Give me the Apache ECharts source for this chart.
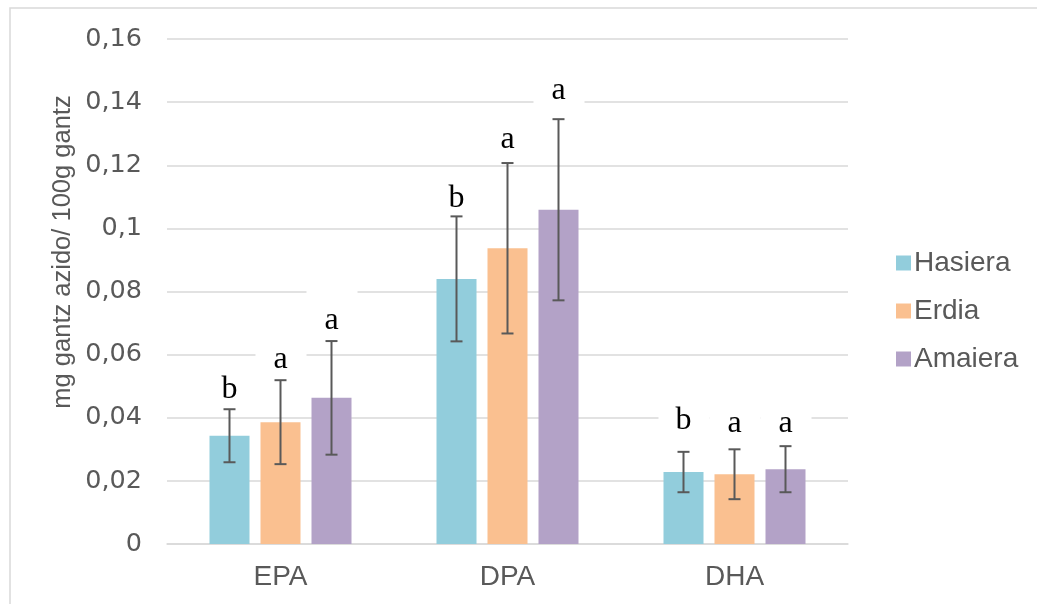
<!DOCTYPE html>
<html>
<head>
<meta charset="utf-8">
<script src="https://cdn.jsdelivr.net/npm/echarts@6/dist/echarts.min.js"></script>
<style>
html,body{margin:0;padding:0;background:#fff;}
#chart{width:1037px;height:604px;}
</style>
</head>
<body>
<div id="chart"></div>
<script>
const categories = ['EPA', 'DPA', 'DHA'];
const seriesNames = ['Hasiera', 'Erdia', 'Amaiera'];
const hasieraMean = [0.0343, 0.0840, 0.0228];
const hasieraErr  = [0.0084, 0.0198, 0.0064];
const erdiaMean   = [0.0386, 0.0937, 0.0221];
const erdiaErr    = [0.0133, 0.0270, 0.0079];
const amaieraMean = [0.0463, 0.1059, 0.0237];
const amaieraErr  = [0.0180, 0.0287, 0.0073];
const hasieraLetters = ['b', 'b', 'b'];
const erdiaLetters   = ['a', 'a', 'a'];
const amaieraLetters = ['a', 'a', 'a'];
// baseline value (in axis units) of each significance letter
const hasieraLetterAt = [0.0462, 0.1067, 0.0361];
const erdiaLetterAt   = [0.0557, 0.1252, 0.0354];
const amaieraLetterAt = [0.0680, 0.1407, 0.0354];
const yAxisTitle = 'mg gantz azido/ 100g gantz';

const colors = ['#92CDDC', '#FAC090', '#B3A2C7'];
const means = [hasieraMean, erdiaMean, amaieraMean];
const errs = [hasieraErr, erdiaErr, amaieraErr];
const letters = [hasieraLetters, erdiaLetters, amaieraLetters];
const letterAt = [hasieraLetterAt, erdiaLetterAt, amaieraLetterAt];

const BAR_W = 40, BAR_GAP = 11;
const offsetOf = s => (s - 1) * (BAR_W + BAR_GAP);

const errData = [], letterData = [];
for (let s = 0; s < 3; s++) {
  for (let c = 0; c < categories.length; c++) {
    errData.push([c, means[s][c], errs[s][c], s]);
    letterData.push([c, letterAt[s][c], s, letters[s][c]]);
  }
}

const chart = echarts.init(document.getElementById('chart'), null, {renderer: 'canvas'});
const sans = '"Liberation Sans", Arial, sans-serif';

const option = {
  backgroundColor: '#fff',
  animation: false,
  color: colors,
  graphic: [{
    type: 'rect', z: -10, silent: true,
    shape: {x: 10, y: 8, width: 1100, height: 700},
    style: {fill: 'none', stroke: '#d9d9d9', lineWidth: 1.5}
  }, {
    type: 'text', silent: true, x: 63, y: 252, rotation: Math.PI / 2,
    style: {text: yAxisTitle, fill: '#595959', font: '25.5px "Liberation Sans", Arial, sans-serif', align: 'center', verticalAlign: 'middle'}
  }],
  grid: {left: 167, right: 189, top: 39, bottom: 60, containLabel: false},
  legend: {
    orient: 'vertical', left: 891, top: 244,
    itemWidth: 15, itemHeight: 15, itemGap: 20,
    icon: 'rect',
    textStyle: {fontSize: 28, color: '#595959', fontFamily: sans, padding: [0, 0, 0, -2]},
    data: seriesNames
  },
  xAxis: {
    type: 'category', data: categories,
    axisTick: {show: false},
    axisLine: {lineStyle: {color: '#d9d9d9', width: 1.5}},
    axisLabel: {fontSize: 28, color: '#595959', fontFamily: sans, margin: 19}
  },
  yAxis: {
    type: 'value', min: 0, max: 0.16, interval: 0.02,
    axisLine: {show: false}, axisTick: {show: false},
    splitLine: {lineStyle: {color: '#d9d9d9', width: 1.5}},
    axisLabel: {
      fontSize: 25.5, color: '#595959', fontFamily: '"DejaVu Sans", sans-serif', margin: 25,
      formatter: v => String(+v.toFixed(2)).replace('.', ',')
    }
  },
  series: [
    ...seriesNames.map((n, s) => ({
      name: n, type: 'bar', data: means[s], barWidth: BAR_W, barGap: (BAR_GAP / BAR_W * 100) + '%',
      itemStyle: {color: colors[s]}, z: 2
    })),
    {
      type: 'custom', z: 5, silent: true,
      data: errData,
      renderItem: (params, api) => {
        const c = api.value(0), m = api.value(1), e = api.value(2), s = api.value(3);
        const top = api.coord([c, m + e]);
        const bot = api.coord([c, m - e]);
        const x = top[0] + offsetOf(s);
        const cap = 6;
        const st = {stroke: '#595959', lineWidth: 2};
        return {type: 'group', children: [
          {type: 'line', shape: {x1: x, y1: top[1], x2: x, y2: bot[1]}, style: st},
          {type: 'line', shape: {x1: x - cap, y1: top[1], x2: x + cap, y2: top[1]}, style: st},
          {type: 'line', shape: {x1: x - cap, y1: bot[1], x2: x + cap, y2: bot[1]}, style: st}
        ]};
      }
    },
    {
      type: 'custom', z: 4, silent: true,
      data: letterData,
      renderItem: (params, api) => {
        const c = api.value(0), v = api.value(1), s = api.value(2);
        const txt = letterData[params.dataIndex][3];
        const p = api.coord([c, v]);
        const x = p[0] + offsetOf(s);
        const y = p[1];
        return {type: 'group', children: [
          {type: 'rect', shape: {x: x - 25, y: y - 40, width: 51, height: 48}, style: {fill: '#fff'}},
          {type: 'text', x: x, y: y - 9, style: {text: txt, fill: '#000', font: '32px "Liberation Serif", "Times New Roman", serif', align: 'center', verticalAlign: 'middle'}}
        ]};
      }
    }
  ]
};
chart.setOption(option);
</script>
</body>
</html>
